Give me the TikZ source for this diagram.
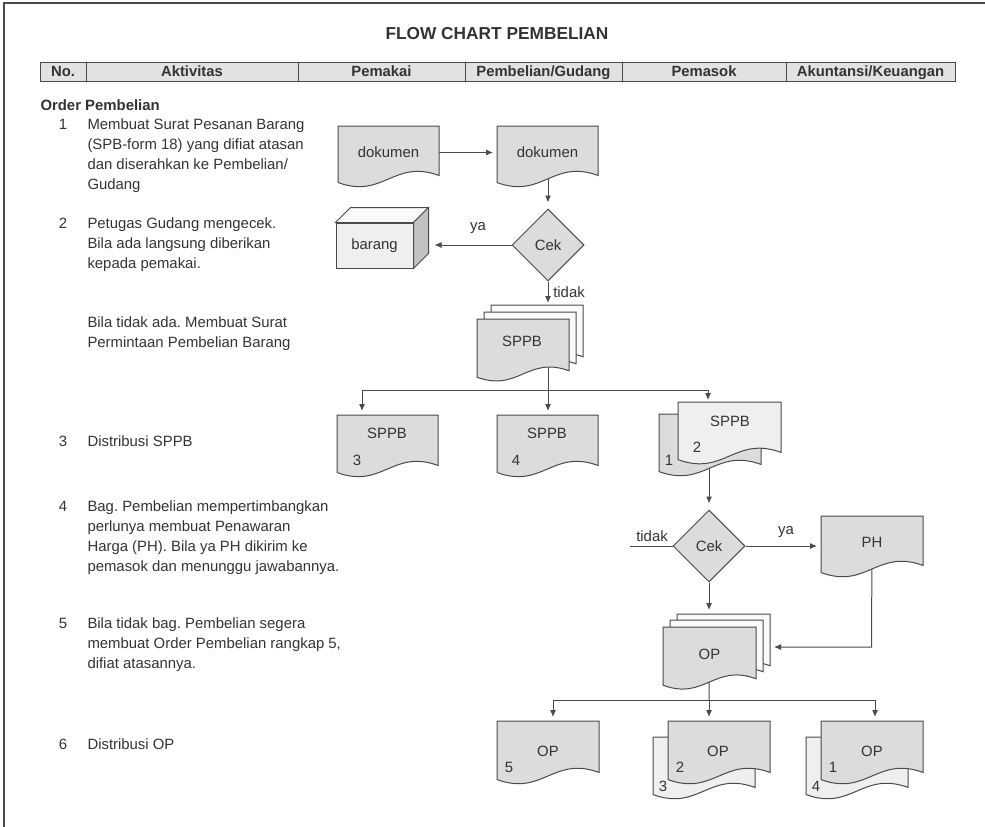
\documentclass[tikz,border=0pt]{standalone}
\usepackage{fontspec}
\setmainfont{Liberation Sans}
\usetikzlibrary{shapes.geometric,arrows.meta,calc}
\frenchspacing

\definecolor{ink}{HTML}{333333}
\definecolor{edge}{HTML}{4A4A4A}
\definecolor{docfill}{HTML}{DCDCDE}
\definecolor{paper}{HTML}{EFEFEF}
\definecolor{sheet}{HTML}{FAFAFA}
\definecolor{shade}{HTML}{C2C2C2}
\definecolor{headfill}{HTML}{E2E2E2}

% Document symbol: rectangle whose bottom edge is a wave
\newdimen\dsW \newdimen\dsA \newdimen\dsC
\newdimen\dsXa \newdimen\dsXb \newdimen\dsYa \newdimen\dsYb
\newdimen\dsXm \newdimen\dsXn
\makeatletter
\pgfdeclareshape{docshape}{
  \inheritsavedanchors[from=rectangle]
  \inheritanchorborder[from=rectangle]
  \inheritanchor[from=rectangle]{center}
  \inheritanchor[from=rectangle]{mid}
  \inheritanchor[from=rectangle]{base}
  \inheritanchor[from=rectangle]{north}
  \inheritanchor[from=rectangle]{south}
  \inheritanchor[from=rectangle]{east}
  \inheritanchor[from=rectangle]{west}
  \inheritanchor[from=rectangle]{north east}
  \inheritanchor[from=rectangle]{north west}
  \inheritanchor[from=rectangle]{south east}
  \inheritanchor[from=rectangle]{south west}
  \backgroundpath{%
    \southwest \dsXa=\pgf@x \dsYa=\pgf@y
    \northeast \dsXb=\pgf@x \dsYb=\pgf@y
    \dsW=\dsXb \advance\dsW by -\dsXa
    \dsA=0.035\dsW
    \dsC=0.2\dsW
    \dsXm=\dsXa \advance\dsXm by 0.55\dsW
    \dsXn=\dsXa \advance\dsXn by 0.45\dsW
    \pgfpathmoveto{\pgfqpoint{\dsXa}{\dsYb}}%
    \pgfpathlineto{\pgfqpoint{\dsXb}{\dsYb}}%
    \pgfpathlineto{\pgfpointadd{\pgfqpoint{\dsXb}{\dsYa}}{\pgfqpoint{0pt}{\dsA}}}%
    \pgfpathcurveto
      {\pgfpointadd{\pgfqpoint{\dsXm}{\dsYa}}{\pgfqpoint{0pt}{\dsC}}}%
      {\pgfpointadd{\pgfqpoint{\dsXn}{\dsYa}}{\pgfqpoint{0pt}{-\dsC}}}%
      {\pgfpointadd{\pgfqpoint{\dsXa}{\dsYa}}{\pgfqpoint{0pt}{-\dsA}}}%
    \pgfpathclose
  }
}
\makeatother

\pgfdeclarelayer{wires}
\pgfsetlayers{wires,main}

\tikzset{
  doc/.style 2 args={docshape, draw=edge, fill=docfill, inner sep=0pt,
    anchor=north west, minimum width=#1, minimum height=#2},
  lbl/.style={inner sep=0pt},
  para/.style={inner sep=0pt, anchor=north west, align=left},
  num/.style={inner sep=0pt, anchor=north},
  hcell/.style={draw=edge, fill=headfill, minimum height=19pt, inner sep=0pt,
    text height=10.6pt, text depth=0pt,
    font=\fontsize{14.8}{18}\selectfont\bfseries},
  decide/.style={diamond, aspect=1, draw=edge, fill=docfill, inner sep=0pt,
    minimum width=72pt, minimum height=72pt},
  wire/.style={draw=edge, line width=1pt},
  arr/.style={wire, -{Latex[length=7pt,width=6pt]}, shorten >=4pt},
}

\begin{document}
\begin{tikzpicture}[x=1pt, y=-1pt, font=\fontsize{14.9}{20}\selectfont,
  text=ink, line width=1pt]
\useasboundingbox (0,0) rectangle (985,827);

% page frame
\draw[edge, line width=1.3pt] (4,827) -- (4,3) -- (985,3);

% title and column headings
\node[lbl, font=\fontsize{17.3}{20}\selectfont\bfseries] (title) at (497,34) {FLOW CHART PEMBELIAN};
\node[hcell, minimum width=46pt]  (hno)  at (63,71.5)    {No.};
\node[hcell, minimum width=212pt] (hakt) at (192,71.5)   {Aktivitas};
\node[hcell, minimum width=167pt] (hpem) at (381.5,71.5) {Pemakai};
\node[hcell, minimum width=157pt] (hgud) at (543.5,71.5) {Pembelian/Gudang};
\node[hcell, minimum width=164pt] (hsup) at (704,71.5)   {Pemasok};
\node[hcell, minimum width=169pt] (hacc) at (870.5,71.5) {Akuntansi/Keuangan};

% activity descriptions
\node[para, font=\fontsize{14.9}{20}\selectfont\bfseries] (sec) at (40,96) {\strut Order Pembelian};
\node[num] (n1) at (63,115.3) {\strut 1};
\node[para] (t1) at (87,115.3) {\strut Membuat Surat Pesanan Barang\\(SPB-form 18) yang difiat atasan\\dan diserahkan ke Pembelian/\\Gudang};
\node[num] (n2) at (63,214.3) {\strut 2};
\node[para] (t2) at (87,214.3) {\strut Petugas Gudang mengecek.\\Bila ada langsung diberikan\\kepada pemakai.};
\node[para] (t2b) at (87,313.3) {\strut Bila tidak ada. Membuat Surat\\Permintaan Pembelian Barang};
\node[num] (n3) at (63,432.3) {\strut 3};
\node[para] (t3) at (87,432.3) {\strut Distribusi SPPB};
\node[num] (n4) at (63,497.3) {\strut 4};
\node[para] (t4) at (87,497.3) {\strut Bag. Pembelian mempertimbangkan\\perlunya membuat Penawaran\\Harga (PH). Bila ya PH dikirim ke\\pemasok dan menunggu jawabannya.};
\node[num] (n5) at (63,614.3) {\strut 5};
\node[para] (t5) at (87,614.3) {\strut Bila tidak bag. Pembelian segera\\membuat Order Pembelian rangkap 5,\\difiat atasannya.};
\node[num] (n6) at (63,735.3) {\strut 6};
\node[para] (t6) at (87,735.3) {\strut Distribusi OP};

% step 1
\node[doc={100pt}{52pt}] (d1) at (338,126) {dokumen};
\node[doc={100pt}{52pt}] (d2) at (497,126) {dokumen};

% step 2
\node[decide] (cek1) at (548,245) {Cek};
\node[draw=edge, fill=paper, minimum width=77pt, minimum height=45pt, inner sep=0pt] (barang) at (374.5,245.5) {barang};
\draw[edge, fill=sheet] (barang.north west) -- ++(15,-15) -- ([shift={(15,-15)}]barang.north east) -- (barang.north east) -- cycle;
\draw[edge, fill=shade] (barang.north east) -- ([shift={(15,-15)}]barang.north east) -- ([shift={(15,-15)}]barang.south east) -- (barang.south east) -- cycle;
\coordinate (bside) at ([xshift=15pt]barang.east);
\node[lbl] (ya1) at (478,228) {ya};
\node[lbl] (tidak1) at (569,292) {tidak};

% SPPB, three copies
\node[doc={91pt}{54pt}, fill=sheet] (sppbC) at (491,305) {};
\node[doc={91pt}{54pt}, fill=sheet] (sppbB) at (484,312) {};
\node[doc={91pt}{54pt}] (sppbA) at (477,319) {};
\node[lbl] (sppbAt) at (522,341) {SPPB};

% step 3: distribution of SPPB
\node[doc={100pt}{53pt}] (s3) at (337,415) {};
\node[lbl] (s3t) at (387,433) {SPPB};
\node[lbl] (s3n) at (357,460) {3};
\node[doc={100pt}{53pt}] (s4) at (497,415) {};
\node[lbl] (s4t) at (547,433) {SPPB};
\node[lbl] (s4n) at (516,460) {4};
\node[doc={101pt}{53pt}] (s12b) at (659,414) {};
\node[doc={102pt}{53pt}, fill=paper] (s12f) at (678,402) {};
\node[lbl] (s12t) at (730,421) {SPPB};
\node[lbl] (s12n2) at (697,447) {2};
\node[lbl] (s12n1) at (669,460) {1};

% step 4
\node[decide] (cek2) at (709,546) {Cek};
\node[doc={101pt}{52pt}] (ph) at (821,516) {PH};
\coordinate (tfree) at (630,546);
\node[lbl] (tidak2) at (652,536) {tidak};
\node[lbl] (ya2) at (786,532) {ya};

% step 5: OP, several copies
\node[doc={92pt}{54pt}, fill=sheet] (opC) at (677,614) {};
\node[doc={92pt}{54pt}, fill=sheet] (opB) at (670,620) {};
\node[doc={92pt}{54pt}] (opA) at (663,627) {OP};

% step 6: distribution of OP
\node[doc={101pt}{54pt}] (op5) at (497,721) {};
\node[lbl] (op5t) at (548,751) {OP};
\node[lbl] (op5n) at (509,767) {5};
\node[doc={101pt}{53pt}, fill=paper] (op23b) at (653,737) {};
\node[doc={101pt}{54pt}] (op23f) at (668,721) {};
\node[lbl] (op23t) at (718,751) {OP};
\node[lbl] (op23n2) at (680,767) {2};
\node[lbl] (op23n3) at (663,786) {3};
\node[doc={101pt}{53pt}, fill=paper] (op14b) at (806,737) {};
\node[doc={101pt}{54pt}] (op14f) at (821,721) {};
\node[lbl] (op14t) at (872,751) {OP};
\node[lbl] (op14n1) at (833,767) {1};
\node[lbl] (op14n4) at (816,786) {4};

% junction points of the distribution lines
\coordinate (j1)  at (548,390);
\coordinate (j1L) at (362,390);
\coordinate (j1R) at (708,390);
\coordinate (phturn) at (871.5,647);
\coordinate (j2)  at (709,700);
\coordinate (j2L) at (553,700);
\coordinate (j2R) at (875,700);

\begin{pgfonlayer}{wires}
  \draw[arr] (d1.east) -- (d2.west);
  \draw[arr, shorten >=6pt] (d2.center -| cek1.north) -- (cek1.north);
  \draw[arr, shorten >=6pt] (cek1.west) -- (cek1.west -| bside);
  \draw[arr, shorten >=2pt] (cek1.south) -- (cek1.south |- sppbC.north);
  \draw[wire] (sppbA.center -| j1) -- (j1);
  \draw[wire] (j1L) -- (j1R);
  \draw[arr] (j1L) -- (j1L |- s3.north);
  \draw[arr] (j1) -- (j1 |- s4.north);
  \draw[arr, shorten >=2pt] (j1R) -- (j1R |- s12f.north);
  \draw[arr, shorten >=6pt] (s12b.center -| cek2.north) -- (cek2.north);
  \draw[wire] (tfree) -- (cek2.west);
  \draw[arr] (cek2.east) -- (cek2.east -| ph.west);
  \draw[arr] (cek2.south) -- (cek2.south |- opC.north);
  \draw[arr] (ph.center) -- (phturn) -- (phturn -| opC.east);
  \draw[wire] (opA.center) -- (j2);
  \draw[wire] (j2L) -- (j2R);
  \draw[arr] (j2L) -- (j2L |- op5.north);
  \draw[arr] (j2) -- (j2 |- op23f.north);
  \draw[arr] (j2R) -- (j2R |- op14f.north);
\end{pgfonlayer}
\end{tikzpicture}
\end{document}
